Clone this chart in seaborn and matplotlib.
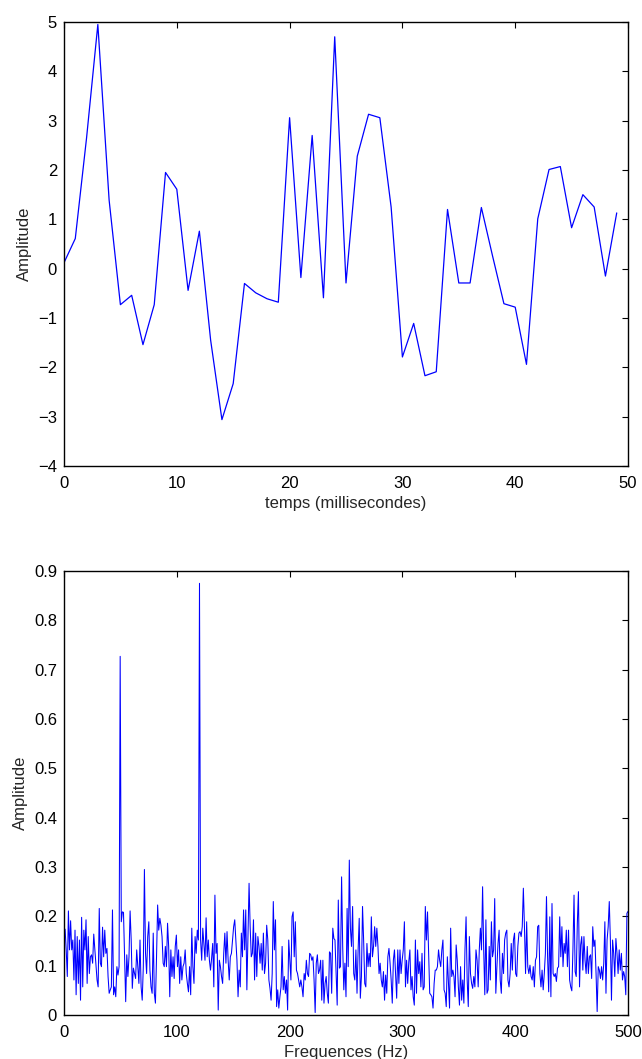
import numpy as np
import pandas as pd
import matplotlib
matplotlib.use("Agg")
import matplotlib.pyplot as plt
import seaborn as sns

# ---------------- data ----------------
time_ms = list(range(50))
signal_amp = [0.12, 0.61, 2.65, 4.95, 1.39, -0.73, -0.54, -1.54, -0.73, 1.95,
              1.61, -0.44, 0.76, -1.45, -3.06, -2.33, -0.30, -0.49, -0.61, -0.68,
              3.06, -0.18, 2.70, -0.59, 4.70, -0.29, 2.28, 3.13, 3.06, 1.25,
              -1.79, -1.11, -2.17, -2.09, 1.20, -0.29, -0.29, 1.24, 0.25, -0.71,
              -0.78, -1.94, 1.01, 2.01, 2.07, 0.83, 1.50, 1.25, -0.15, 1.13]

# single-sided spectrum, 513 bins from 0 to 500 Hz (read in bands)
spec_0_90 = [0.152, 0.174, 0.132, 0.078, 0.211, 0.132, 0.191, 0.132, 0.152, 0.071,
             0.172, 0.041, 0.159, 0.064, 0.152, 0.030, 0.198, 0.057, 0.172, 0.132,
             0.193, 0.064, 0.159, 0.084, 0.118, 0.122, 0.105, 0.164, 0.132, 0.098,
             0.071, 0.057, 0.216, 0.105, 0.098, 0.178, 0.118, 0.172, 0.125, 0.135,
             0.078, 0.044, 0.051, 0.057, 0.213, 0.041, 0.057, 0.037, 0.098, 0.081,
             0.098, 0.727, 0.189, 0.209, 0.208, 0.118, 0.027, 0.122, 0.078, 0.118,
             0.211, 0.152, 0.054, 0.095, 0.084, 0.074, 0.132, 0.098, 0.064, 0.152,
             0.057, 0.030, 0.098, 0.295, 0.125, 0.084, 0.159, 0.189, 0.091, 0.057,
             0.044, 0.166, 0.044, 0.024, 0.118, 0.223, 0.172, 0.196, 0.182, 0.159,
             0.105]
spec_91_172 = [0.098, 0.139, 0.098, 0.186, 0.139, 0.037, 0.132, 0.078, 0.118, 0.074,
               0.139, 0.162, 0.098, 0.132, 0.064, 0.118, 0.071, 0.098, 0.105, 0.132,
               0.084, 0.064, 0.047, 0.098, 0.041, 0.176, 0.098, 0.064, 0.159, 0.125,
               0.172, 0.152, 0.875, 0.152, 0.111, 0.176, 0.145, 0.111, 0.197, 0.118,
               0.152, 0.111, 0.091, 0.115, 0.145, 0.057, 0.243, 0.125, 0.145, 0.010,
               0.111, 0.098, 0.078, 0.064, 0.125, 0.166, 0.105, 0.169, 0.111, 0.071,
               0.118, 0.125, 0.152, 0.179, 0.193, 0.152, 0.111, 0.037, 0.091, 0.057,
               0.166, 0.118, 0.213, 0.132, 0.213, 0.051, 0.159, 0.267, 0.179, 0.118,
               0.125, 0.193]
spec_173_259 = [0.071, 0.166, 0.078, 0.159, 0.139, 0.105, 0.145, 0.091, 0.166, 0.084,
                0.105, 0.182, 0.152, 0.071, 0.054, 0.030, 0.084, 0.230, 0.132, 0.193,
                0.017, 0.051, 0.014, 0.037, 0.057, 0.139, 0.051, 0.078, 0.044, 0.071,
                0.010, 0.152, 0.111, 0.071, 0.199, 0.209, 0.118, 0.189, 0.091, 0.084,
                0.071, 0.057, 0.071, 0.057, 0.037, 0.084, 0.071, 0.111, 0.084, 0.078,
                0.125, 0.122, 0.111, 0.118, 0.071, 0.005, 0.105, 0.122, 0.084, 0.091,
                0.111, 0.030, 0.111, 0.024, 0.064, 0.078, 0.044, 0.024, 0.128, 0.125,
                0.044, 0.176, 0.155, 0.152, 0.084, 0.020, 0.233, 0.095, 0.098, 0.280,
                0.139, 0.051, 0.105, 0.037, 0.216, 0.098, 0.314]
spec_260_345 = [0.176, 0.139, 0.220, 0.084, 0.071, 0.132, 0.044, 0.132, 0.196, 0.034,
                0.078, 0.220, 0.152, 0.064, 0.057, 0.145, 0.098, 0.125, 0.098, 0.199,
                0.118, 0.139, 0.179, 0.139, 0.176, 0.139, 0.084, 0.105, 0.071, 0.057,
                0.088, 0.030, 0.081, 0.044, 0.118, 0.135, 0.105, 0.071, 0.024, 0.111,
                0.132, 0.084, 0.034, 0.132, 0.064, 0.132, 0.084, 0.111, 0.132, 0.189,
                0.057, 0.111, 0.064, 0.108, 0.132, 0.051, 0.078, 0.037, 0.020, 0.152,
                0.044, 0.132, 0.084, 0.108, 0.057, 0.125, 0.051, 0.057, 0.220, 0.152,
                0.209, 0.125, 0.044, 0.041, 0.037, 0.014, 0.064, 0.091, 0.091, 0.098,
                0.132, 0.111, 0.098, 0.132, 0.152, 0.051]
spec_346_431 = [0.044, 0.017, 0.118, 0.064, 0.014, 0.176, 0.078, 0.091, 0.078, 0.037,
                0.142, 0.111, 0.057, 0.020, 0.098, 0.030, 0.071, 0.024, 0.132, 0.199,
                0.071, 0.017, 0.159, 0.084, 0.064, 0.054, 0.078, 0.057, 0.132, 0.111,
                0.057, 0.132, 0.176, 0.132, 0.260, 0.132, 0.041, 0.193, 0.044, 0.051,
                0.139, 0.071, 0.189, 0.118, 0.132, 0.236, 0.044, 0.098, 0.145, 0.172,
                0.071, 0.044, 0.125, 0.084, 0.152, 0.166, 0.172, 0.071, 0.057, 0.084,
                0.145, 0.091, 0.152, 0.166, 0.084, 0.078, 0.139, 0.166, 0.169, 0.159,
                0.179, 0.257, 0.179, 0.084, 0.189, 0.098, 0.084, 0.101, 0.078, 0.071,
                0.098, 0.057, 0.111, 0.118, 0.179, 0.182]
spec_432_512 = [0.084, 0.057, 0.091, 0.051, 0.084, 0.125, 0.240, 0.118, 0.047, 0.199,
                0.037, 0.226, 0.084, 0.078, 0.084, 0.068, 0.095, 0.098, 0.199, 0.118,
                0.179, 0.098, 0.145, 0.125, 0.172, 0.098, 0.172, 0.071, 0.057, 0.049,
                0.132, 0.243, 0.088, 0.078, 0.186, 0.250, 0.057, 0.142, 0.159, 0.091,
                0.159, 0.111, 0.084, 0.139, 0.084, 0.118, 0.122, 0.074, 0.179, 0.139,
                0.152, 0.084, 0.007, 0.098, 0.091, 0.074, 0.098, 0.071, 0.105, 0.189,
                0.044, 0.152, 0.179, 0.230, 0.152, 0.030, 0.152, 0.125, 0.078, 0.155,
                0.125, 0.084, 0.132, 0.091, 0.125, 0.071, 0.088, 0.078, 0.041, 0.206,
                0.210]

spectrum = spec_0_90 + spec_91_172 + spec_173_259 + spec_260_345 + spec_346_431 + spec_432_512
freq_hz = np.linspace(0, 500, len(spectrum))

top_xticks = [0, 10, 20, 30, 40, 50]
top_yticks = [-4, -3, -2, -1, 0, 1, 2, 3, 4, 5]
bot_xticks = [0, 100, 200, 300, 400, 500]
bot_yticks = [0, 0.1, 0.2, 0.3, 0.4, 0.5, 0.6, 0.7, 0.8, 0.9]

# ---------------- style ----------------
sns.set_style("white")
plt.rcParams['font.family'] = ['Liberation Sans', 'DejaVu Sans']
plt.rcParams['axes.unicode_minus'] = True

FS = 12
W, H = 642, 1059
fig = plt.figure(figsize=(W / 100, H / 100), dpi=100)

def box(px_left, px_top, px_right, px_bottom):
    return [px_left / W, 1 - px_bottom / H, (px_right - px_left) / W, (px_bottom - px_top) / H]

ax1 = fig.add_axes(box(64, 22, 628, 466))
ax2 = fig.add_axes(box(64, 571, 628, 1015))

df_t = pd.DataFrame({"t": time_ms, "a": signal_amp})
df_f = pd.DataFrame({"f": freq_hz, "a": spectrum})

sns.lineplot(data=df_t, x="t", y="a", ax=ax1, color="#0000ff", linewidth=0.9,
             estimator=None, sort=False)
sns.lineplot(data=df_f, x="f", y="a", ax=ax2, color="#0000ff", linewidth=0.75,
             estimator=None, sort=False)

for ax, xt, yt, xl, yl, xlab in [
    (ax1, top_xticks, top_yticks, (0, 50), (-4, 5), "temps (millisecondes)"),
    (ax2, bot_xticks, bot_yticks, (0, 500), (0, 0.9), "Frequences (Hz)"),
]:
    ax.set_xlim(*xl)
    ax.set_ylim(*yl)
    ax.set_xticks(xt)
    ax.set_yticks(yt)
    ax.set_xticklabels([f"{v:g}" for v in xt])
    ax.set_yticklabels([f"{v:g}".replace("-", "\u2212") for v in yt])
    ax.set_xlabel(xlab, fontsize=FS, labelpad=4)
    ax.set_ylabel("Amplitude", fontsize=FS, labelpad=4)
    ax.tick_params(axis="x", pad=7)
    ax.tick_params(axis="y", pad=5)
    ax.tick_params(direction="in", top=True, right=True, length=4, width=0.8,
                   labelsize=FS, colors="black")
    for s in ax.spines.values():
        s.set_visible(True)
        s.set_color("black")
        s.set_linewidth(1.0)
    ax.grid(False)

fig.savefig("out.png", dpi=100)
